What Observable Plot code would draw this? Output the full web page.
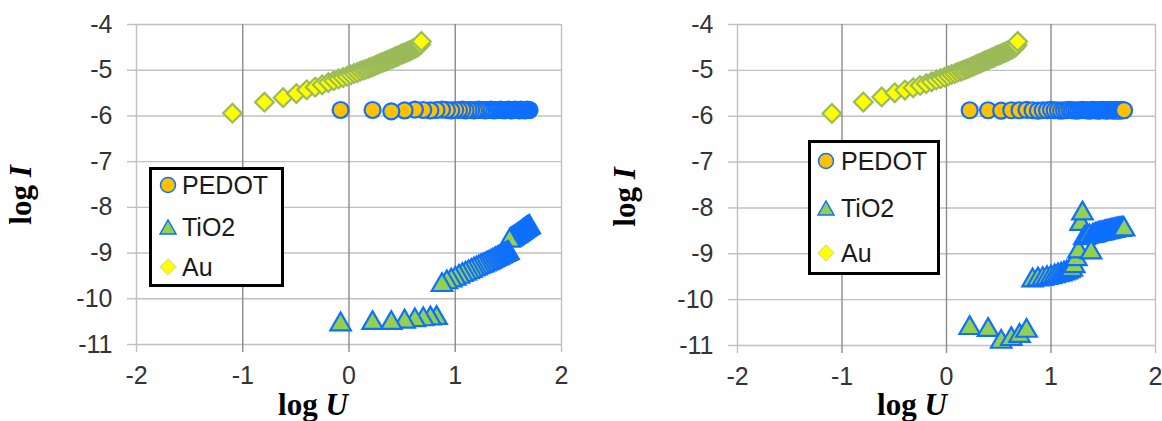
<!DOCTYPE html>
<html>
<head>
<meta charset="utf-8">
<script src="https://cdn.jsdelivr.net/npm/d3@7"></script>
<script src="https://cdn.jsdelivr.net/npm/@observablehq/plot@0.6"></script>
<style>
  body { margin: 0; background: #fff; }
  #wrap { position: relative; width: 1162px; height: 421px; display: flex; overflow: hidden; background: #fff; }
  .legend { position: absolute; border: 3px solid #000; background: #fff; box-sizing: border-box;
            font-family: "Liberation Sans", Arial, sans-serif; font-size: 25px; color: #1a1a1a; }
  .legend .row { position: absolute; height: 30px; display: flex; align-items: center; white-space: nowrap; }
  .legend .row svg { position: absolute; }
</style>
</head>
<body>
<div id="wrap"></div>
<script>
// ---------------- data ----------------
const xTicks = [-2, -1, 0, 1, 2];
const yTicks = [-4, -5, -6, -7, -8, -9, -10, -11];
const seriesNames = ["PEDOT", "TiO2", "Au"];

// log U values (PEDOT and TiO2 share the same voltage steps)
const pedotLogU = [
  -0.079, 0.222, 0.398, 0.523, 0.620, 0.699, 0.766, 0.824, 0.875, 0.921,
  0.962, 1.000, 1.035, 1.067, 1.097, 1.125, 1.151, 1.176, 1.199, 1.222,
  1.243, 1.263, 1.283, 1.301, 1.319, 1.336, 1.352, 1.368, 1.383, 1.398,
  1.412, 1.426, 1.440, 1.453, 1.465, 1.477, 1.489, 1.501, 1.512, 1.523,
  1.534, 1.544, 1.554, 1.564, 1.574, 1.583, 1.593, 1.602, 1.611, 1.620,
  1.629, 1.637, 1.645, 1.653, 1.661, 1.669, 1.677, 1.684, 1.692, 1.699
];
const auLogU = [
  -1.097, -0.796, -0.620, -0.495, -0.398, -0.319, -0.252, -0.194, -0.143, -0.097,
  -0.056, -0.018, 0.017, 0.049, 0.079, 0.107, 0.134, 0.158, 0.182, 0.204,
  0.225, 0.246, 0.265, 0.283, 0.301, 0.318, 0.334, 0.350, 0.365, 0.380,
  0.394, 0.408, 0.422, 0.435, 0.447, 0.459, 0.471, 0.483, 0.494, 0.505,
  0.516, 0.526, 0.537, 0.547, 0.556, 0.566, 0.575, 0.584, 0.593, 0.602,
  0.611, 0.619, 0.627, 0.635, 0.643, 0.651, 0.659, 0.666, 0.674, 0.681
];

// left panel log I
const leftPedotLogI = [
  -5.87, -5.87, -5.90, -5.88, -5.86, -5.87, -5.88, -5.87, -5.86, -5.87,
  -5.88, -5.87, -5.87, -5.86, -5.88, -5.87, -5.87, -5.88, -5.87, -5.86,
  -5.87, -5.87, -5.88, -5.87, -5.87, -5.86, -5.87, -5.88, -5.87, -5.87,
  -5.87, -5.86, -5.87, -5.87, -5.88, -5.87, -5.87, -5.86, -5.87, -5.87,
  -5.88, -5.87, -5.87, -5.86, -5.87, -5.87, -5.87, -5.88, -5.87, -5.86,
  -5.87, -5.87, -5.87, -5.88, -5.87, -5.87, -5.86, -5.87, -5.87, -5.87
];
const leftTio2LogI = [
  -10.56, -10.53, -10.53, -10.50, -10.47, -10.45, -10.43, -10.42, -9.70, -9.64,
  -9.60, -9.56, -9.52, -9.48, -9.45, -9.42, -9.39, -9.36, -9.34, -9.31,
  -9.29, -9.27, -9.25, -9.23, -9.21, -9.19, -9.17, -9.15, -9.13, -9.12,
  -9.10, -9.08, -9.07, -9.05, -9.04, -9.02, -9.01, -9.00, -8.73, -8.71,
  -8.69, -8.68, -8.66, -8.65, -8.63, -8.62, -8.60, -8.59, -8.57, -8.56,
  -8.54, -8.53, -8.51, -8.50, -8.49, -8.47, -8.46, -8.45, -8.44, -8.43
];
const leftAuLogI = [
  -5.94, -5.70, -5.60, -5.51, -5.43, -5.37, -5.32, -5.27, -5.23, -5.19,
  -5.16, -5.13, -5.10, -5.07, -5.05, -5.02, -5.00, -4.98, -4.96, -4.94,
  -4.92, -4.90, -4.88, -4.86, -4.84, -4.83, -4.81, -4.80, -4.78, -4.77,
  -4.75, -4.74, -4.73, -4.71, -4.70, -4.69, -4.68, -4.66, -4.65, -4.64,
  -4.63, -4.62, -4.61, -4.60, -4.59, -4.58, -4.57, -4.56, -4.55, -4.54,
  -4.53, -4.52, -4.51, -4.50, -4.49, -4.48, -4.47, -4.45, -4.43, -4.37
];

// right panel log I (first voltage step not shown)
const rightPedotLogI = [
  null, -5.87, -5.87, -5.88, -5.87, -5.87, -5.86, -5.87, -5.88, -5.87,
  -5.87, -5.86, -5.87, -5.87, -5.88, -5.87, -5.87, -5.86, -5.87, -5.87,
  -5.88, -5.87, -5.87, -5.86, -5.87, -5.87, -5.87, -5.88, -5.87, -5.86,
  -5.87, -5.87, -5.87, -5.88, -5.87, -5.87, -5.86, -5.87, -5.87, -5.87,
  -5.88, -5.87, -5.87, -5.86, -5.87, -5.87, -5.87, -5.88, -5.87, -5.86,
  -5.87, -5.87, -5.87, -5.88, -5.87, -5.87, -5.86, -5.87, -5.87, -5.87
];
const rightTio2LogI = [
  null, -10.62, -10.66, -10.92, -10.86, -10.79, -10.68, -9.58, -9.56, -9.55,
  -9.53, -9.51, -9.49, -9.47, -9.45, -9.43, -9.41, -9.38, -9.35, -9.27,
  -9.12, -8.95, -8.35, -8.12, -8.66, -8.64, -8.63, -8.62, -8.97, -8.61,
  -8.60, -8.59, -8.58, -8.57, -8.57, -8.56, -8.55, -8.55, -8.54, -8.53,
  -8.53, -8.52, -8.52, -8.51, -8.51, -8.50, -8.50, -8.49, -8.49, -8.48,
  -8.48, -8.48, -8.47, -8.47, -8.47, -8.47, -8.46, -8.46, -8.46, -8.47
];
const rightAuLogI = [
  -5.94, -5.69, -5.58, -5.49, -5.43, -5.38, -5.33, -5.29, -5.25, -5.21,
  -5.18, -5.15, -5.12, -5.09, -5.07, -5.04, -5.02, -5.00, -4.98, -4.96,
  -4.94, -4.92, -4.90, -4.88, -4.86, -4.85, -4.83, -4.81, -4.80, -4.78,
  -4.77, -4.76, -4.74, -4.73, -4.72, -4.71, -4.69, -4.68, -4.67, -4.66,
  -4.65, -4.64, -4.63, -4.62, -4.61, -4.60, -4.59, -4.58, -4.57, -4.56,
  -4.55, -4.54, -4.53, -4.52, -4.51, -4.50, -4.49, -4.47, -4.44, -4.37
];

// ---------------- styles ----------------
const styles = {
  PEDOT: { symbol: "circle", r: 8, fill: "#FFC000", stroke: "#0F6FFF", sw: 2.2 },
  TiO2:  { symbol: "triangle", r: 7.6, fill: "#92D050", stroke: "#0F6FFF", sw: 2.2 },
  Au:    { symbol: "diamond2", r: 8.4, fill: "#FFFF00", stroke: "#9BBB59", sw: 2.2 }
};

function rows(us, is, reverse) {
  const out = us.map((u, k) => ({ u, i: is[k] })).filter(d => d.i != null);
  return reverse ? out.reverse() : out;
}

function makePanel(cfg) {
  const dotMarks = cfg.series.map(s =>
    Plot.dot(s.data, { x: "u", y: "i", symbol: styles[s.name].symbol, r: styles[s.name].r,
      fill: styles[s.name].fill, stroke: styles[s.name].stroke, strokeWidth: styles[s.name].sw }));
  const plot = Plot.plot({
    width: cfg.width, height: 421,
    marginLeft: cfg.marginLeft, marginRight: cfg.marginRight, marginTop: 24, marginBottom: cfg.marginBottom,
    x: { domain: [-2, 2] },
    y: { domain: [-11, -4] },
    style: { fontFamily: "'Liberation Sans', Arial, sans-serif", fontSize: "25px", color: "#333", background: "#fff" },
    marks: [
      Plot.gridY({ ticks: yTicks, stroke: "#c0c0c0", strokeOpacity: 1, strokeWidth: 1.4 }),
      Plot.gridX({ ticks: [xTicks[0], xTicks[4]], stroke: "#c0c0c0", strokeOpacity: 1, strokeWidth: 1.4 }),
      Plot.gridX({ ticks: xTicks.slice(1, 4), stroke: "#8c8c8c", strokeOpacity: 1, strokeWidth: 1.4 }),
      Plot.axisY({ ticks: yTicks, tickSize: 9, tickPadding: 15, stroke: "#c0c0c0", strokeWidth: 1.4,
        tickFormat: d => String(d), label: null }),
      Plot.axisX({ ticks: [xTicks[0], xTicks[4]], tickSize: 8, tickPadding: 14, stroke: "#c0c0c0", strokeWidth: 1.4,
        tickFormat: d => String(d), label: null }),
      Plot.axisX({ ticks: xTicks.slice(1, 4), tickSize: 8, tickPadding: 14, stroke: "#8c8c8c", strokeWidth: 1.4,
        tickFormat: d => String(d), label: null }),
      ...dotMarks
    ]
  });
  const svg = d3.select(plot);
  const titleFont = "bold 31px 'Liberation Serif', 'Times New Roman', serif";
  const ty = svg.append("text")
    .attr("transform", `translate(${cfg.yTitleX},${cfg.yTitleY}) rotate(-90)`)
    .attr("text-anchor", "middle").attr("fill", "#000")
    .style("font", titleFont).style("white-space", "pre");
  ty.append("tspan").text("log ");
  ty.append("tspan").style("font-style", "italic").text("I");
  const tx = svg.append("text")
    .attr("x", cfg.xTitleX).attr("y", cfg.xTitleY)
    .attr("text-anchor", "middle").attr("fill", "#000")
    .style("font", titleFont).style("white-space", "pre");
  tx.append("tspan").text("log ");
  tx.append("tspan").style("font-style", "italic").text("U");
  return plot;
}

const wrap = document.getElementById("wrap");

const left = makePanel({
  width: 580, marginLeft: 136, marginRight: 19, marginBottom: 77,
  yTitleX: 31, yTitleY: 195, xTitleX: 313, xTitleY: 415,
  series: [
    { name: "PEDOT", data: rows(pedotLogU, leftPedotLogI, true) },
    { name: "TiO2", data: rows(pedotLogU, leftTio2LogI, true) },
    { name: "Au", data: rows(auLogU, leftAuLogI, false) }
  ]
});
const right = makePanel({
  width: 582, marginLeft: 157, marginRight: 7, marginBottom: 76,
  yTitleX: 55, yTitleY: 197, xTitleX: 332, xTitleY: 415,
  series: [
    { name: "PEDOT", data: rows(pedotLogU, rightPedotLogI, false) },
    { name: "TiO2", data: rows(pedotLogU, rightTio2LogI, false) },
    { name: "Au", data: rows(auLogU, rightAuLogI, false) }
  ]
});
wrap.appendChild(left);
wrap.appendChild(right);

// ---------------- legends ----------------
function markerSvg(name) {
  const s = styles[name];
  let shape;
  if (name === "PEDOT") shape = `<circle cx="9" cy="9" r="7.5" fill="${s.fill}" stroke="${s.stroke}" stroke-width="1.5"/>`;
  else if (name === "TiO2") shape = `<polygon points="1,16 9,2 17,16" fill="${s.fill}" stroke="${s.stroke}" stroke-width="1.5"/>`;
  else shape = `<polygon points="9,1 17,9 9,17 1,9" fill="${s.fill}" stroke="#E0E080" stroke-width="1.2"/>`;
  return `<svg width="18" height="18" viewBox="0 0 18 18">${shape}</svg>`;
}
function addLegend(box) {
  const div = document.createElement("div");
  div.className = "legend";
  Object.assign(div.style, { left: box.left + "px", top: box.top + "px", width: box.width + "px", height: box.height + "px" });
  seriesNames.forEach((name, k) => {
    const row = document.createElement("div");
    row.className = "row";
    row.style.top = (box.rowY[k] - 15 - 3) + "px";
    row.style.left = "0px";
    row.innerHTML = markerSvg(name);
    const svgEl = row.querySelector("svg");
    svgEl.style.left = (box.markerX - 9 - 3) + "px";
    svgEl.style.top = "6px";
    const span = document.createElement("span");
    span.textContent = name;
    span.style.position = "absolute";
    span.style.left = (box.textX - 3) + "px";
    span.style.top = "0px";
    span.style.lineHeight = "30px";
    row.appendChild(span);
    div.appendChild(row);
  });
  wrap.appendChild(div);
}
addLegend({ left: 149, top: 167, width: 135, height: 120, rowY: [18, 60, 100], markerX: 19, textX: 33 });
addLegend({ left: 808, top: 140, width: 132, height: 135, rowY: [21, 68, 113], markerX: 18, textX: 33 });
</script>
</body>
</html>
